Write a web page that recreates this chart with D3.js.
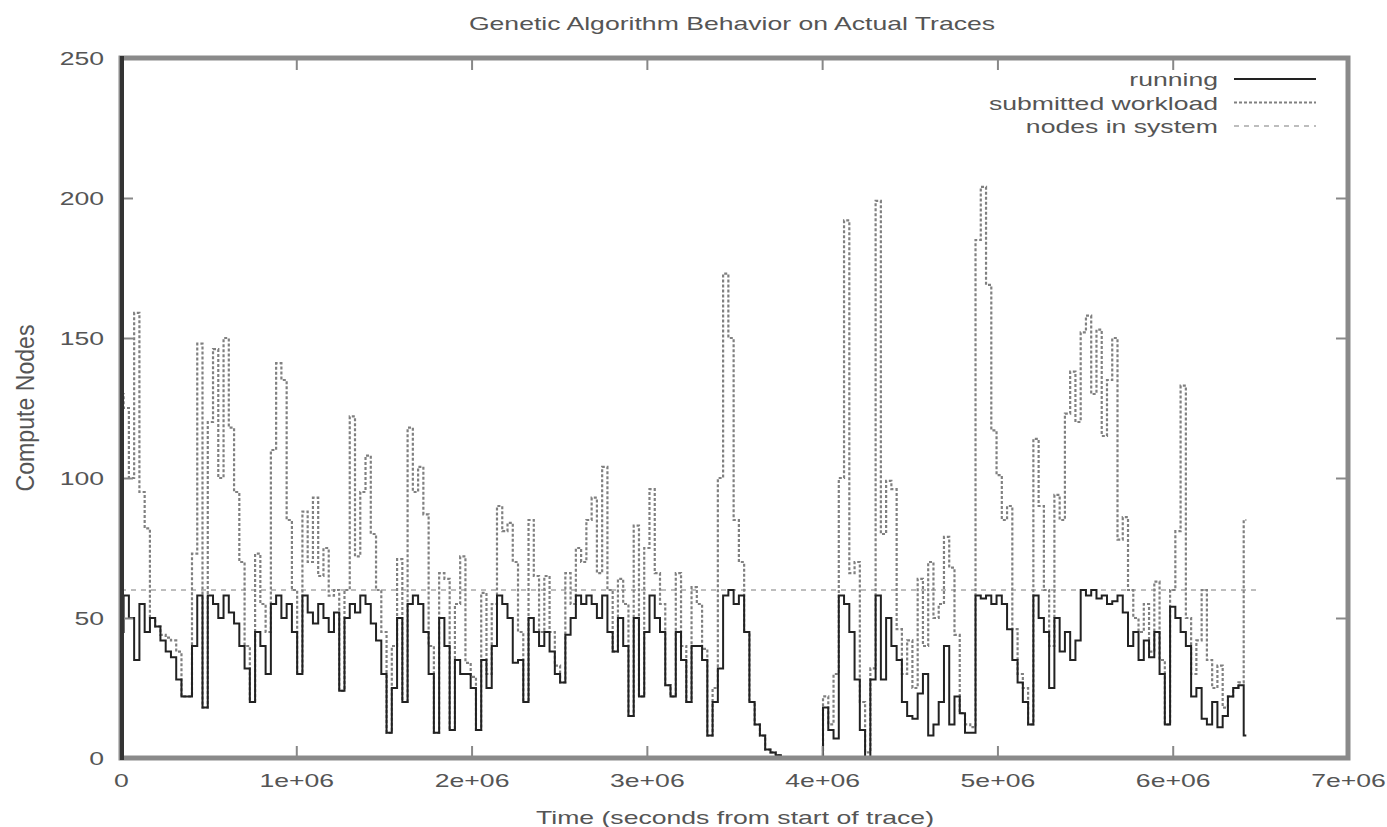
<!DOCTYPE html>
<html><head><meta charset="utf-8">
<script src="https://cdn.jsdelivr.net/npm/d3@7"></script>
<style>
body{margin:0;background:#fff}
svg text{font-family:"Liberation Sans",Arial,Helvetica,sans-serif;fill:#555;font-size:19px}
</style></head>
<body><svg id="chart" width="1387" height="827"></svg>
<script>
// ---- data ----
const SAMPLE_INTERVAL = 30000; // seconds between trace samples
const submittedWorkload = [
 130,125,100,159,95,82,50,47,44,43,
 42,38,22,22,73,148,18,120,146,100,
 150,118,95,70,40,20,73,55,45,110,
 141,135,85,60,30,88,70,93,65,75,
 58,60,24,60,122,72,95,108,80,60,
 45,9,40,71,20,118,95,104,87,40,
 9,66,64,10,55,72,34,29,10,59,
 30,55,90,81,84,70,45,20,85,65,
 45,65,45,33,27,66,55,75,70,85,
 93,66,104,60,38,64,55,15,83,22,
 75,96,66,55,26,22,66,40,20,61,
 55,39,8,25,100,173,150,85,70,45,
 20,12,8,3,2,1,0,0,0,0,
 0,0,0,0,22,12,30,100,192,66,
 70,20,2,32,199,80,99,96,46,30,
 42,25,64,40,70,50,55,79,68,44,
 16,12,11,185,204,169,117,101,85,90,
 46,30,25,12,114,90,60,40,94,85,
 123,138,120,152,158,130,153,115,135,150,
 78,86,60,50,45,55,38,63,35,12,
 60,81,133,50,30,42,60,35,25,33,
 18,22,25,27,85
];
const running = [
 45,58,50,35,55,45,50,47,42,38,
 36,28,22,22,40,58,18,58,55,50,
 58,52,48,40,32,20,45,40,30,55,
 58,50,55,45,30,58,52,48,55,50,
 45,52,24,50,55,52,58,55,48,42,
 30,9,25,50,20,55,58,55,45,30,
 9,50,40,10,35,30,30,25,10,35,
 25,40,58,55,50,34,35,20,50,45,
 40,45,38,30,27,44,50,58,55,58,
 55,50,58,45,38,50,40,15,50,22,
 45,58,50,45,26,22,45,35,20,40,
 40,35,8,20,32,58,60,55,58,45,
 20,12,8,3,2,1,0,0,0,0,
 0,0,0,0,18,10,7,58,55,45,
 28,10,0,28,58,28,50,40,35,20,
 15,14,23,30,8,12,20,40,12,22,
 16,9,9,58,57,58,55,58,55,46,
 35,27,20,12,58,50,45,25,50,38,
 45,35,42,60,58,60,57,58,55,56,
 58,52,40,45,35,42,36,45,30,12,
 54,50,45,40,22,25,14,12,20,11,
 15,22,25,26,8
];
const nodesTimes = [0, 6480000];
const nodesValues = [60, 60];
const xTickValues = [0,1e6,2e6,3e6,4e6,5e6,6e6,7e6];
const xTickLabels = ["0","1e+06","2e+06","3e+06","4e+06","5e+06","6e+06","7e+06"];
const yTickValues = [0,50,100,150,200,250];
const yTickLabels = ["0","50","100","150","200","250"];
const legendLabels = ["running","submitted workload","nodes in system"];

// ---- drawing ----
const SX = 1.4;
const svg = d3.select("#chart");
const L = 121, R = 1348, T = 58, B = 758;
const x = d3.scaleLinear().domain([0, 7e6]).range([L, R]);
const y = d3.scaleLinear().domain([0, 250]).range([B, T]);

svg.append("defs").append("clipPath").attr("id","clip")
  .append("rect").attr("x",L).attr("y",T).attr("width",R-L).attr("height",B-T);

const styles = {
  running:   {stroke:"#222", width:2,   dash:null},
  submitted: {stroke:"#808080", width:2.2, dash:"3,2"},
  nodes:     {stroke:"#bdbdbd", width:2,   dash:"5,5"}
};

const plot = svg.append("g").attr("clip-path","url(#clip)");
plot.append("path")
  .datum(nodesTimes.map((t,i)=>[t,nodesValues[i]]))
  .attr("fill","none").attr("stroke",styles.nodes.stroke)
  .attr("stroke-width",styles.nodes.width).attr("stroke-dasharray",styles.nodes.dash)
  .attr("d", d3.line().x(d=>x(d[0])).y(d=>y(d[1])));

const stepLine = d3.line().x((d,i)=>x(i*SAMPLE_INTERVAL)).y(d=>y(d)).curve(d3.curveStep);
plot.append("path").datum(submittedWorkload)
  .attr("fill","none").attr("stroke",styles.submitted.stroke)
  .attr("stroke-width",styles.submitted.width).attr("stroke-dasharray",styles.submitted.dash)
  .attr("d", stepLine);
plot.append("path").datum(running)
  .attr("fill","none").attr("stroke",styles.running.stroke)
  .attr("stroke-width",styles.running.width)
  .attr("d", stepLine);

function styleAxis(g){
  g.select(".domain").remove();
  g.selectAll(".tick line").attr("stroke","#888").attr("stroke-width",2);
  g.selectAll(".tick text").style("font-size","19px").attr("fill","#555");
}
svg.append("g").attr("transform",`translate(0,${B})`)
  .call(d3.axisBottom(x).tickValues(xTickValues).tickFormat((d,i)=>xTickLabels[i]).tickSize(-12).tickPadding(16))
  .call(styleAxis)
  .call(g=>g.selectAll(".tick text").attr("transform",`scale(${SX},1)`));
svg.append("g").attr("transform",`translate(0,${T})`)
  .call(d3.axisTop(x).tickValues(xTickValues).tickFormat("").tickSize(-12))
  .call(styleAxis);
svg.append("g").attr("transform",`translate(${L},0)`)
  .call(d3.axisLeft(y).tickValues(yTickValues).tickFormat((d,i)=>yTickLabels[i]).tickSize(-12).tickPadding(17))
  .call(styleAxis)
  .call(g=>g.selectAll(".tick text").attr("x",-17/SX).attr("transform",`scale(${SX},1)`));
svg.append("g").attr("transform",`translate(${R},0)`)
  .call(d3.axisRight(y).tickValues(yTickValues).tickFormat("").tickSize(-12))
  .call(styleAxis);

svg.append("rect").attr("x",L).attr("y",T).attr("width",R-L).attr("height",B-T)
  .attr("fill","none").attr("stroke","#8a8a8a").attr("stroke-width",5);
svg.append("line").attr("x1",L+1).attr("x2",L+1).attr("y1",T-2).attr("y2",B+2)
  .attr("stroke","#333").attr("stroke-width",4);

svg.append("text").attr("transform",`translate(732,30) scale(${SX},1)`)
  .attr("text-anchor","middle").text("Genetic Algorithm Behavior on Actual Traces");
svg.append("text").attr("transform",`translate(735,824) scale(${SX},1)`)
  .attr("text-anchor","middle").text("Time (seconds from start of trace)");
svg.append("text").attr("transform",`translate(34,408) scale(${SX},1) rotate(-90)`)
  .attr("text-anchor","middle").attr("textLength",167).attr("lengthAdjust","spacingAndGlyphs")
  .text("Compute Nodes");

const legendStyles = [styles.running, styles.submitted, styles.nodes];
const baselines = [86, 109.5, 133];
legendLabels.forEach((lab,i)=>{
  svg.append("text").attr("transform",`translate(1218,${baselines[i]}) scale(${SX},1)`)
    .attr("text-anchor","end").text(lab);
  const s = legendStyles[i];
  svg.append("line").attr("x1",1234).attr("x2",1316)
    .attr("y1",baselines[i]-7).attr("y2",baselines[i]-7)
    .attr("stroke",s.stroke).attr("stroke-width",s.width)
    .attr("stroke-dasharray",s.dash);
});
</script></body></html>
